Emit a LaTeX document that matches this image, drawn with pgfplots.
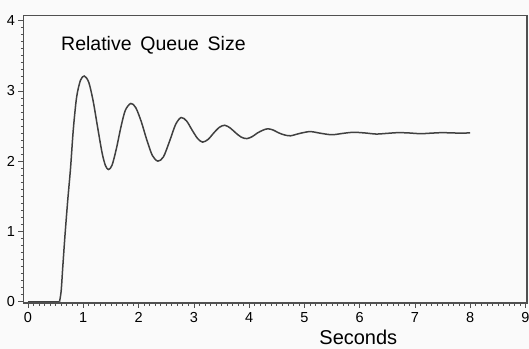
\documentclass[border=0pt]{standalone}
\usepackage{pgfplots}
\pgfplotsset{compat=1.18}
\usepackage{fontspec}
\setmainfont{Liberation Sans}
\definecolor{bg}{HTML}{FAFAFA}
\definecolor{curve}{HTML}{404040}
\definecolor{frame}{HTML}{505050}
\begin{document}
\begin{tikzpicture}
\fill[bg] (-23.5bp,-46bp) rectangle (505.5bp,303bp);
\path[use as bounding box] (-23.5bp,-46bp) rectangle (505.5bp,303bp);
\begin{axis}[
  at={(0,0)}, anchor=south west,
  scale only axis,
  width=503.5bp, height=287.5bp,
  xmin=-0.081, xmax=9.027,
  ymin=-0.018, ymax=4.071,
  xtick={0,1,...,9}, ytick={0,1,2,3,4},
  minor x tick num=9, minor y tick num=9,
  tick align=outside,
  xtick pos=bottom, ytick pos=left,
  major tick length=5bp, minor tick length=2.5bp,
  tick style={draw=frame, line width=0.6bp},
  axis line style={draw=frame, line width=1.1bp},
  axis background/.style={fill=bg},
  ticklabel style={font=\fontsize{14.5bp}{16bp}\selectfont, text=black},
  /pgf/number format/assume math mode=true,
  xticklabel style={yshift=-1bp},
  xlabel={Seconds},
  xlabel style={at={(rel axis cs:0.665,0)}, anchor=base, yshift=-41bp,
    font=\fontsize{20bp}{22bp}\selectfont},
  clip=false,
]
% idle period before the queue starts filling
\addplot[curve, line width=1.5bp] coordinates {(0,0) (0.57,0)};
% damped oscillation towards the steady state
\addplot[curve, line width=1.5bp, smooth, tension=0.5] coordinates {
(0.57,0) (0.60,0.15) (0.63,0.5) (0.67,0.95) (0.72,1.45) (0.77,1.9)
(0.82,2.45) (0.88,2.91) (0.95,3.15) (1.02,3.21) (1.10,3.12) (1.18,2.85)
(1.26,2.48) (1.34,2.12) (1.40,1.94) (1.455,1.88) (1.52,1.94) (1.60,2.18)
(1.68,2.48) (1.76,2.72) (1.86,2.82) (1.95,2.76) (2.05,2.56) (2.15,2.30)
(2.25,2.08) (2.35,2.00) (2.45,2.06) (2.56,2.28) (2.67,2.52) (2.77,2.62)
(2.87,2.57) (2.97,2.44) (3.07,2.32) (3.16,2.27) (3.26,2.31) (3.36,2.40)
(3.46,2.48) (3.56,2.51) (3.66,2.47) (3.76,2.40) (3.86,2.34) (3.96,2.32)
(4.06,2.35) (4.15,2.40) (4.25,2.44) (4.34,2.46) (4.44,2.44) (4.54,2.40)
(4.65,2.37) (4.75,2.36) (4.85,2.38) (4.95,2.40) (5.11,2.42) (5.30,2.395)
(5.50,2.375) (5.70,2.395) (5.89,2.41) (6.10,2.40) (6.30,2.385) (6.50,2.395)
(6.70,2.405) (6.90,2.40) (7.10,2.39) (7.30,2.398) (7.50,2.405) (7.70,2.40)
(8.00,2.40)
};
\node[anchor=base west, inner sep=0pt, font=\fontsize{19.5bp}{21bp}\selectfont]
  at (rel axis cs:0.0745,0.8776) {Relative\hspace{0.45em}Queue\hspace{0.45em}Size};
\end{axis}
\end{tikzpicture}
\end{document}
